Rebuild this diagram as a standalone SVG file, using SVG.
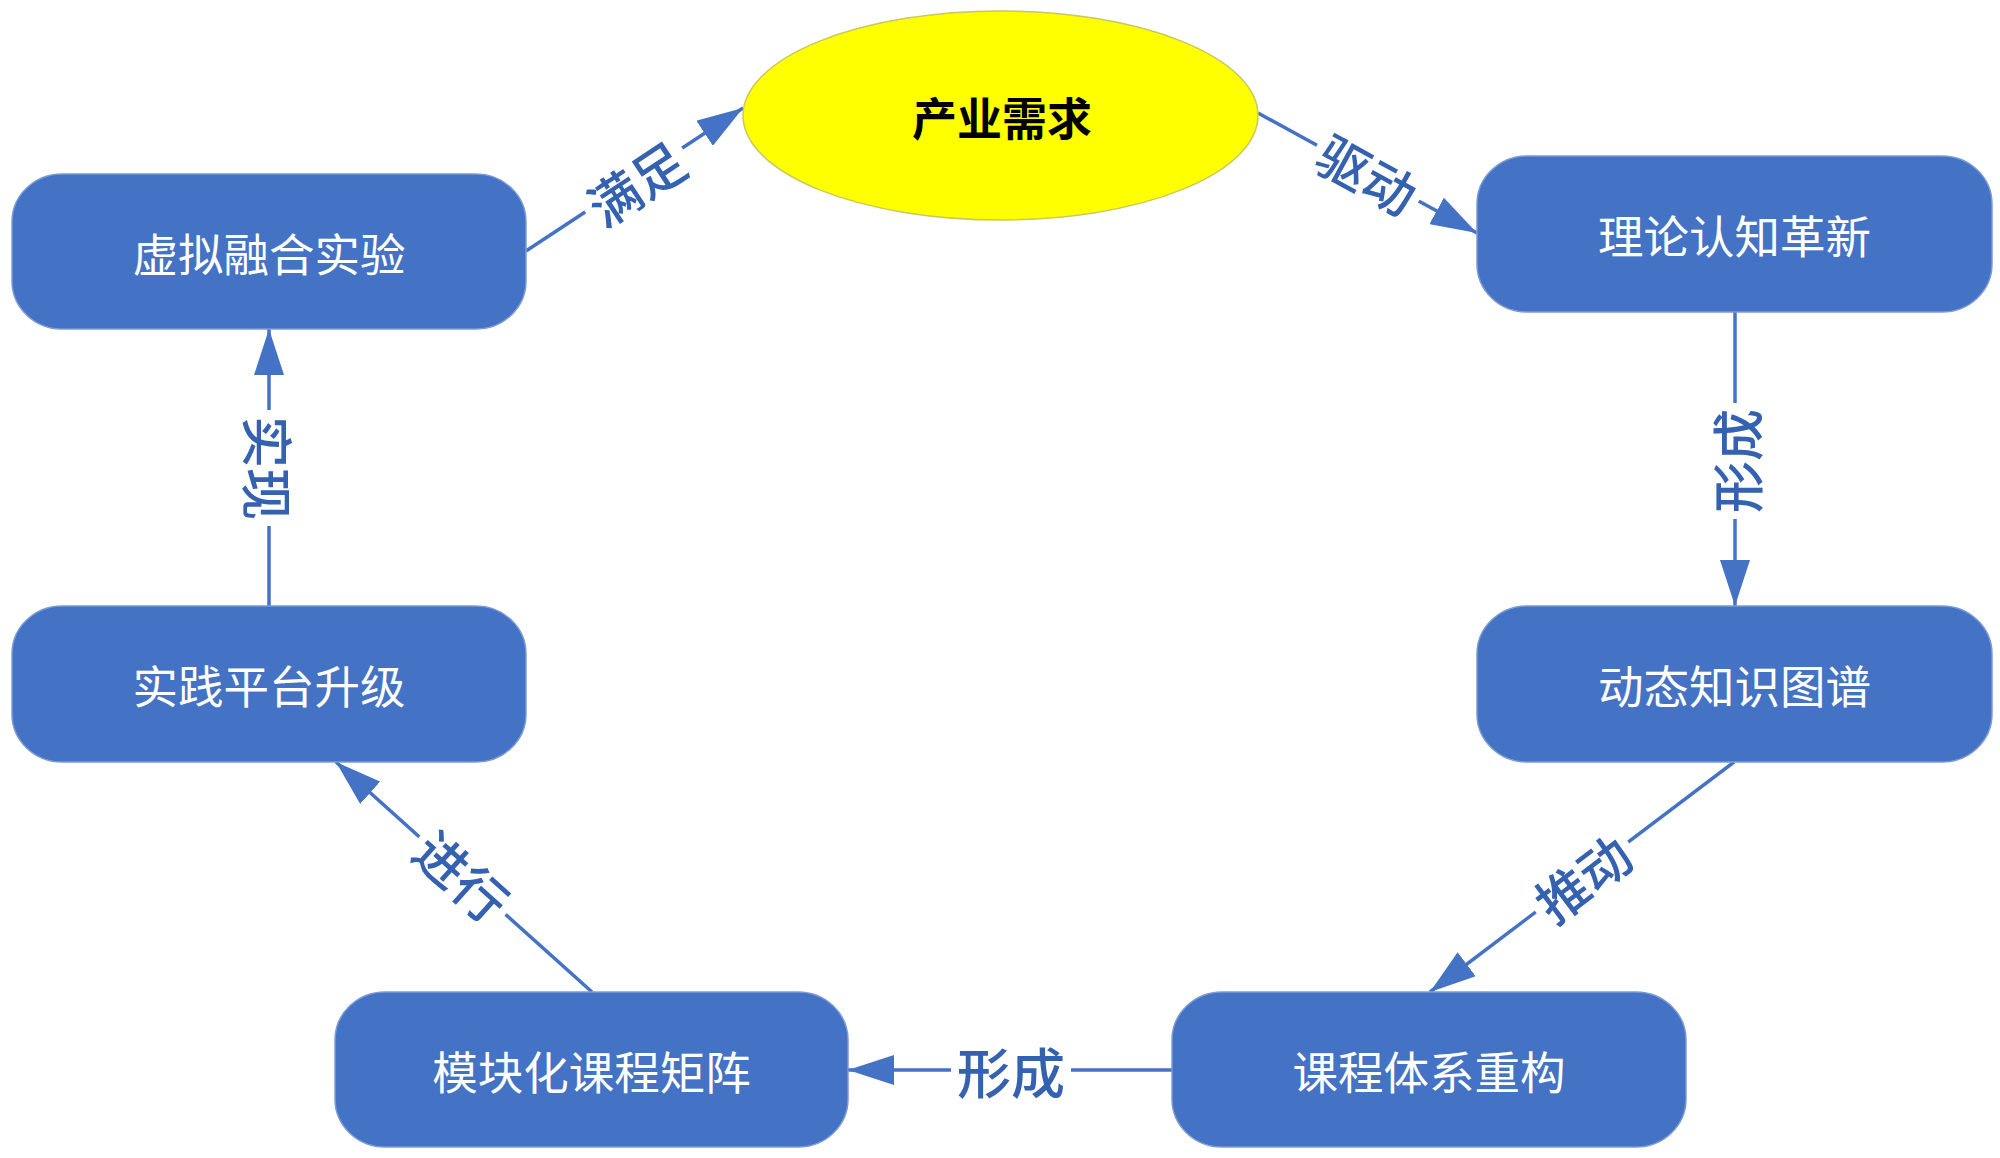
<svg xmlns="http://www.w3.org/2000/svg" width="2000" height="1158" viewBox="0 0 2000 1158">
<style>
.box{fill:#4472C4;stroke:#7A9AD6;stroke-width:1.5}
.bt{font-family:"Noto Sans CJK SC","Noto Sans",sans-serif;font-size:45.5px;fill:#FFFFFF;text-anchor:middle;dominant-baseline:central}
.et{font-family:"Noto Sans CJK SC","Noto Sans",sans-serif;font-size:45px;font-weight:bold;fill:#000000;text-anchor:middle;dominant-baseline:central}
.ln{stroke:#4472C4;stroke-width:3.5;fill:none}
.lt{font-family:"Noto Sans CJK SC","Noto Sans",sans-serif;font-size:52px;font-weight:500;fill:#3461B0;text-anchor:middle;dominant-baseline:central}
.bg{fill:#FFFFFF}
</style>
<defs>
<marker id="ah" markerUnits="userSpaceOnUse" markerWidth="46" markerHeight="30" refX="46" refY="15" orient="auto">
<path d="M0,0 L46,15 L0,30 z" fill="#4472C4"/>
</marker>
</defs>
<rect width="2000" height="1158" fill="#FFFFFF"/>
<g id="connectors">
<line class="ln" x1="526" y1="251" x2="743" y2="108" marker-end="url(#ah)"/>
<line class="ln" x1="1258" y1="113" x2="1477" y2="233" marker-end="url(#ah)"/>
<line class="ln" x1="1735" y1="312" x2="1735" y2="606" marker-end="url(#ah)"/>
<line class="ln" x1="269" y1="606" x2="269" y2="329" marker-end="url(#ah)"/>
<line class="ln" x1="1734" y1="762" x2="1430" y2="992" marker-end="url(#ah)"/>
<line class="ln" x1="1172" y1="1070" x2="848" y2="1070" marker-end="url(#ah)"/>
<line class="ln" x1="592" y1="992" x2="336" y2="762" marker-end="url(#ah)"/>
<g transform="translate(635,182) rotate(-33.4)"><rect class="bg" x="-58" y="-26" width="116" height="52"/><text class="lt">满足</text></g>
<g transform="translate(1368,173) rotate(28.7)"><rect class="bg" x="-58" y="-26" width="116" height="52"/><text class="lt">驱动</text></g>
<g transform="translate(1735,461) rotate(-90)"><rect class="bg" x="-58" y="-26" width="116" height="52"/><text class="lt">形成</text></g>
<g transform="translate(269,468) rotate(90)"><rect class="bg" x="-58" y="-26" width="116" height="52"/><text class="lt">实现</text></g>
<g transform="translate(1582,877) rotate(-37.2)"><rect class="bg" x="-58" y="-26" width="116" height="52"/><text class="lt">推动</text></g>
<g transform="translate(1011,1070)"><rect class="bg" x="-60" y="-28" width="120" height="56"/><text class="lt" style="font-size:54px">形成</text></g>
<g transform="translate(463,875) rotate(41.8)"><rect class="bg" x="-58" y="-26" width="116" height="52"/><text class="lt">进行</text></g>
</g>
<g id="n-demand"><ellipse cx="1000.5" cy="115.5" rx="257.5" ry="104.5" fill="#FFFF00" stroke="#C8C860" stroke-width="1.5"/><text class="et" x="1002" y="116">产业需求</text></g>
<g id="n-theory"><rect class="box" x="1477" y="156" width="515" height="156" rx="50" ry="48"/><text class="bt" x="1734.5" y="234">理论认知革新</text></g>
<g id="n-graph"><rect class="box" x="1477" y="606" width="515" height="156" rx="50" ry="48"/><text class="bt" x="1734.5" y="684">动态知识图谱</text></g>
<g id="n-system"><rect class="box" x="1172" y="992" width="514" height="155" rx="50" ry="48"/><text class="bt" x="1429" y="1070">课程体系重构</text></g>
<g id="n-matrix"><rect class="box" x="335" y="992" width="513" height="155" rx="50" ry="48"/><text class="bt" x="591.5" y="1070">模块化课程矩阵</text></g>
<g id="n-platform"><rect class="box" x="12" y="606" width="514" height="156" rx="50" ry="48"/><text class="bt" x="269" y="684">实践平台升级</text></g>
<g id="n-virtual"><rect class="box" x="12" y="174" width="514" height="155" rx="50" ry="48"/><text class="bt" x="269" y="252">虚拟融合实验</text></g>
</svg>
